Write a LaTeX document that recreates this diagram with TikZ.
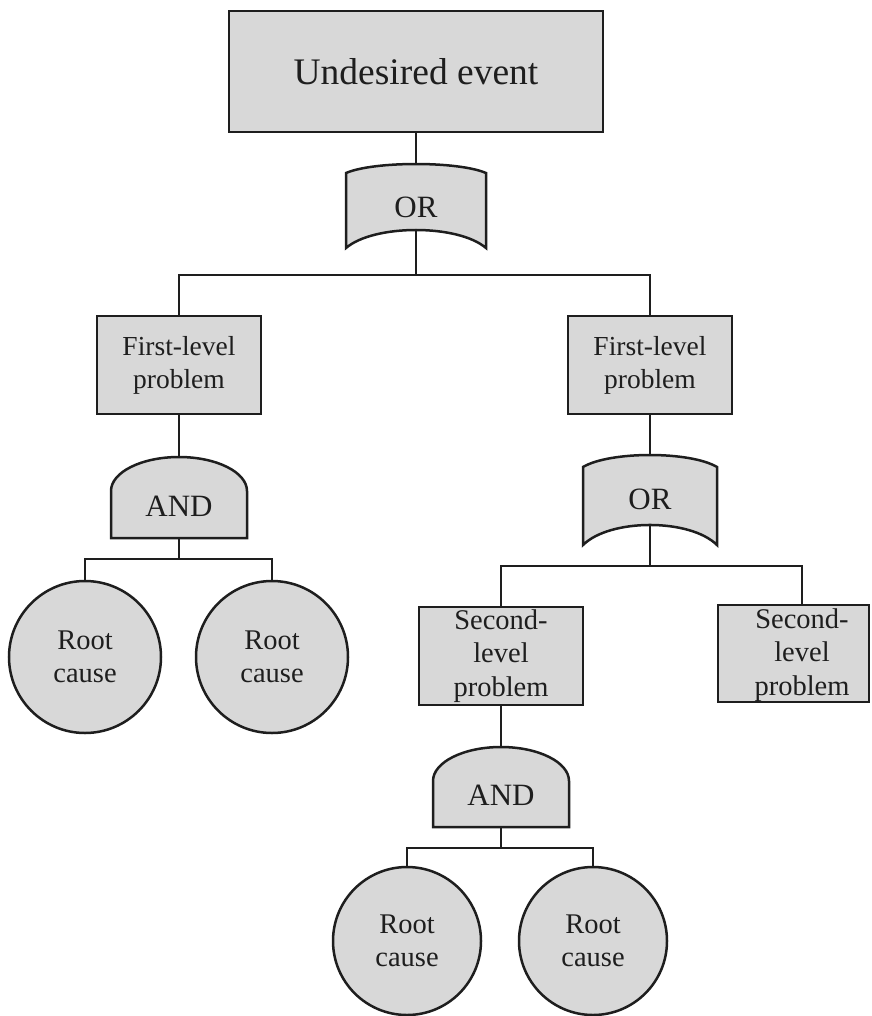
\documentclass[tikz,border=0pt]{standalone}
\usepackage{fontspec}
\setmainfont{Liberation Serif}
\definecolor{boxfill}{RGB}{216,216,216}
\definecolor{ink}{RGB}{30,30,30}
\begin{document}
\begin{tikzpicture}[x=1pt,y=-1pt,
  ln/.style={draw=ink,line width=2.8pt},
  shp/.style={draw=ink,fill=boxfill,line width=2.5pt},
  evbox/.style={shp,rectangle,inner sep=0pt,align=center,text=ink},
  rootc/.style={shp,circle,inner sep=0pt,minimum size=#1,align=center,text=ink,font=\fontsize{28.5}{33.5}\selectfont},
  gatetxt/.style={inner sep=0pt,text=ink,font=\fontsize{31}{34}\selectfont},
  txt/.style={inner sep=0pt,align=center,text=ink}]
\useasboundingbox (0,0) rectangle (871,1016);
\begin{scope}
\clip (0,0) rectangle (871,1016);
% top event
\node[evbox,minimum width=374pt,minimum height=121pt,font=\fontsize{37.5}{40}\selectfont] (top) at (416,71.5) {Undesired event};
% OR gate 1
\path[shp] (346,173) .. controls (374,161) and (458,161) .. (486,173) -- (486,248) .. controls (458,224) and (374,224) .. (346,248) -- cycle;
\coordinate (or1in) at (416,164);
\coordinate (or1out) at (416,230);
\node[gatetxt] (or1) at (416,207) {OR};
% first-level problems
\node[evbox,minimum width=164pt,minimum height=98pt,font=\fontsize{27.5}{33}\selectfont] (fl1) at (179,365) {First-level\\problem};
\node[evbox,minimum width=164pt,minimum height=98pt,font=\fontsize{27.5}{33}\selectfont] (fl2) at (650,365) {First-level\\problem};
% AND gate 1
\path[shp] (111,538) -- (111,491) arc[start angle=180,end angle=360,x radius=68,y radius=34] -- (247,538) -- cycle;
\coordinate (and1in) at (179,457);
\coordinate (and1out) at (179,538);
\node[gatetxt] (and1) at (179,506) {AND};
% root causes left
\node[rootc=152pt] (rc1) at (85,657) {Root\\cause};
\node[rootc=152pt] (rc2) at (272,657) {Root\\cause};
% OR gate 2
\path[shp] (583,467) .. controls (610,451) and (690,451) .. (717,467) -- (717,545) .. controls (690,518.3) and (610,518.3) .. (583,545) -- cycle;
\coordinate (or2in) at (650,455);
\coordinate (or2out) at (650,525);
\node[gatetxt] (or2) at (650,499) {OR};
% second-level problems
\node[evbox,minimum width=164pt,minimum height=98pt,font=\fontsize{28.5}{33.5}\selectfont] (sl1) at (501,656) {Second-\\level\\problem};
\node[evbox,minimum width=151pt,minimum height=97pt] (sl2) at (793.5,653.5) {};
\node[txt,font=\fontsize{28.5}{33.5}\selectfont] (sl2t) at (802,655) {Second-\\level\\problem};
% AND gate 2
\path[shp] (433,827) -- (433,781) arc[start angle=180,end angle=360,x radius=68,y radius=34] -- (569,827) -- cycle;
\coordinate (and2in) at (501,747);
\coordinate (and2out) at (501,827);
\node[gatetxt] (and2) at (501,795) {AND};
% root causes lower
\node[rootc=148pt] (rc3) at (407,941) {Root\\cause};
\node[rootc=148pt] (rc4) at (593,941) {Root\\cause};
% bus coordinates
\coordinate (b1) at (416,275);
\coordinate (b2) at (179,559);
\coordinate (b3) at (650,566);
\coordinate (b4) at (501,848);
% connectors
\draw[ln] (top.south) -- (or1in);
\draw[ln] (or1out) -- (b1);
\draw[ln] (fl1.north) -- (fl1.north |- b1) -- (fl2.north |- b1) -- (fl2.north);
\draw[ln] (fl1.south) -- (and1in);
\draw[ln] (and1out) -- (b2);
\draw[ln] (rc1.north) -- (rc1.north |- b2) -- (rc2.north |- b2) -- (rc2.north);
\draw[ln] (fl2.south) -- (or2in);
\draw[ln] (or2out) -- (b3);
\draw[ln] (sl1.north) -- (sl1.north |- b3) -- (sl2t |- b3) -- (sl2t |- sl2.north);
\draw[ln] (sl1.south) -- (and2in);
\draw[ln] (and2out) -- (b4);
\draw[ln] (rc3.north) -- (rc3.north |- b4) -- (rc4.north |- b4) -- (rc4.north);
\end{scope}
\end{tikzpicture}
\end{document}
